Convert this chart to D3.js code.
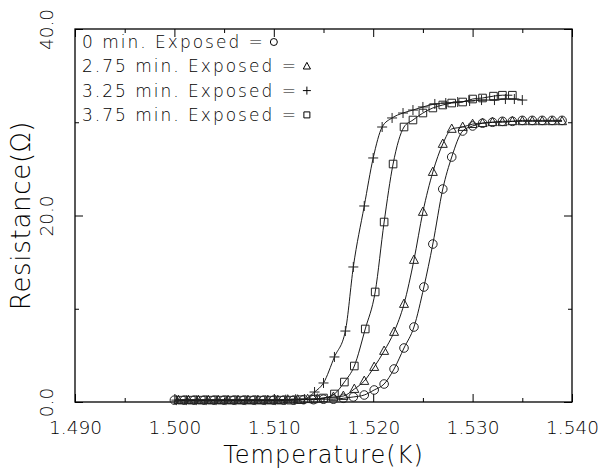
<!DOCTYPE html>
<html>
<head>
<meta charset="utf-8">
<script src="https://cdn.jsdelivr.net/npm/d3@7"></script>
<style>
  body { margin: 0; background: #fff; }
  #chart { width: 598px; height: 469px; }
  text { font-family: "DejaVu Sans", sans-serif; font-weight: 200; fill: #000; }
</style>
</head>
<body>
<div id="chart"></div>
<script>
// 0 min. exposed (circles)
var temp0 = [1.5000, 1.5010, 1.5020, 1.5030, 1.5040, 1.5050, 1.5060, 1.5070, 1.5080, 1.5090,
             1.5100, 1.5110, 1.5120, 1.5130, 1.5140, 1.5150, 1.5160, 1.5170, 1.5180, 1.5191,
             1.5201, 1.5211, 1.5221, 1.5231, 1.5241, 1.5251, 1.5260, 1.5270, 1.5279, 1.5290,
             1.5300, 1.5310, 1.5320, 1.5330, 1.5340, 1.5350, 1.5360, 1.5370, 1.5380, 1.5390];
var res0 = [0.2, 0.2, 0.2, 0.2, 0.2, 0.2, 0.2, 0.2, 0.2, 0.2,
            0.2, 0.2, 0.2, 0.25, 0.25, 0.3, 0.3, 0.4, 0.54, 0.75,
            1.29, 1.93, 3.54, 5.79, 8.04, 12.33, 16.94, 22.84, 26.27, 29.06,
            29.6, 29.9, 30.0, 30.1, 30.1, 30.2, 30.2, 30.2, 30.2, 30.2];

// 2.75 min. exposed (triangles)
var temp275 = [1.5004, 1.5014, 1.5024, 1.5034, 1.5044, 1.5054, 1.5064, 1.5074, 1.5084, 1.5094,
               1.5104, 1.5114, 1.5124, 1.5134, 1.5144, 1.5160, 1.5170, 1.5181, 1.5191, 1.5201,
               1.5211, 1.5221, 1.5231, 1.5241, 1.5250, 1.5260, 1.5270, 1.5279, 1.5290, 1.5300,
               1.5310, 1.5320, 1.5330, 1.5340, 1.5350, 1.5360, 1.5370, 1.5380, 1.5390];
var res275 = [0.2, 0.2, 0.2, 0.2, 0.2, 0.2, 0.2, 0.2, 0.2, 0.2,
              0.2, 0.25, 0.25, 0.3, 0.35, 0.54, 0.64, 1.39, 2.25, 3.75,
              5.47, 7.51, 10.51, 15.23, 20.38, 24.66, 27.67, 29.28, 29.49, 29.8,
              29.9, 30.0, 30.0, 30.1, 30.1, 30.1, 30.1, 30.1, 30.1];

// 3.25 min. exposed (plus)
var temp325 = [1.5002, 1.5012, 1.5022, 1.5032, 1.5042, 1.5052, 1.5062, 1.5072, 1.5082, 1.5092,
               1.5102, 1.5112, 1.5122, 1.5131, 1.5141, 1.5150, 1.5161, 1.5172, 1.5180, 1.5191,
               1.5200, 1.5209, 1.5219, 1.5230, 1.5240, 1.5250, 1.5262, 1.5273, 1.5285, 1.5297,
               1.5309, 1.5322, 1.5333, 1.5342, 1.5350];
var res325 = [0.2, 0.2, 0.2, 0.2, 0.2, 0.2, 0.2, 0.2, 0.2, 0.2,
              0.2, 0.25, 0.3, 0.32, 1.07, 2.04, 4.83, 7.61, 14.48, 21.02,
              26.17, 29.49, 30.46, 30.99, 31.31, 31.64, 31.96, 32.06, 32.17, 32.28,
              32.38, 32.38, 32.49, 32.49, 32.38];

// 3.75 min. exposed (squares)
var temp375 = [1.5007, 1.5017, 1.5027, 1.5037, 1.5047, 1.5057, 1.5067, 1.5077, 1.5087, 1.5097,
               1.5107, 1.5117, 1.5127, 1.5140, 1.5150, 1.5161, 1.5171, 1.5181, 1.5192, 1.5202,
               1.5211, 1.5220, 1.5231, 1.5240, 1.5250, 1.5260, 1.5270, 1.5279, 1.5290, 1.5300,
               1.5310, 1.5321, 1.5330, 1.5340];
var res375 = [0.2, 0.2, 0.2, 0.2, 0.2, 0.2, 0.2, 0.2, 0.2, 0.2,
              0.2, 0.2, 0.25, 0.32, 0.43, 0.86, 2.14, 3.86, 7.83, 11.80,
              19.30, 25.52, 29.49, 30.24, 30.99, 31.53, 31.85, 32.06, 32.17, 32.49,
              32.6, 32.8, 32.9, 32.9];

var seriesNames = ["0 min. Exposed =", "2.75 min. Exposed =", "3.25 min. Exposed =", "3.75 min. Exposed ="];
var seriesMarks = ["circle", "triangle", "plus", "square"];

var xTickValues = [1.490, 1.500, 1.510, 1.520, 1.530, 1.540];
var xMinorValues = [1.495, 1.505, 1.515, 1.525, 1.535];
var yTickValues = [0, 20, 40];
var yMinorValues = [10, 30];

function markPath(type, s) {
     if (type == "circle") return "M" + s + ",0A" + s + "," + s + " 0 1,1 " + (-s) + ",0A" + s + "," + s + " 0 1,1 " + s + ",0";
     if (type == "triangle") return "M0," + (-s * 1.1) + "L" + s + "," + (s * 0.75) + "L" + (-s) + "," + (s * 0.75) + "Z";
     if (type == "plus") return "M" + (-s) + ",0L" + s + ",0M0," + (-s) + "L0," + s;
     return "M" + (-s) + "," + (-s) + "L" + s + "," + (-s) + "L" + s + "," + s + "L" + (-s) + "," + s + "Z";
}

function drawChart(id) {

     var width = 598, height = 469;
     var margin = {top: 29, right: 26, bottom: 67, left: 75};
     var w = width - margin.left - margin.right;
     var h = height - margin.top - margin.bottom;

     var svg = d3.select(id)
                 .append("svg")
                 .attr("width", width)
                 .attr("height", height);

     var g = svg.append("g").attr("transform", "translate(" + margin.left + "," + margin.top + ")");

     var x = d3.scaleLinear().domain([1.490, 1.540]).range([0, w]);
     var y = d3.scaleLinear().domain([0, 40]).range([h, 0]);

     var series = [
          {temp: temp0, res: res0},
          {temp: temp275, res: res275},
          {temp: temp325, res: res325},
          {temp: temp375, res: res375}
     ];
     series.forEach(function(s, i) {
          s.mark = seriesMarks[i];
          s.points = s.temp.map(function(t, j) { return [t, s.res[j]]; });
     });

     // ticks (inward, all four sides)
     var ax = function(axis, tr) {
          var a = g.append("g").attr("transform", tr).call(axis);
          a.select(".domain").remove();
          a.selectAll("line").attr("stroke", "#000").attr("stroke-width", 1);
          return a;
     };

     var bottom = ax(d3.axisBottom(x).tickValues(xTickValues).tickSize(-8).tickPadding(19)
                      .tickFormat(d3.format(".3f")), "translate(0," + h + ")");
     bottom.selectAll("text").style("font-size", "18.5px").style("font-family", "DejaVu Sans").style("font-weight", 200);
     ax(d3.axisBottom(x).tickValues(xMinorValues).tickSize(-4).tickFormat(""), "translate(0," + h + ")");
     ax(d3.axisTop(x).tickValues(xTickValues).tickSize(-8).tickFormat(""), "translate(0,0)");
     ax(d3.axisTop(x).tickValues(xMinorValues).tickSize(-4).tickFormat(""), "translate(0,0)");

     var left = ax(d3.axisLeft(y).tickValues(yTickValues).tickSize(-8).tickFormat(d3.format(".1f")), "translate(0,0)");
     left.selectAll("text")
         .attr("x", 0).attr("dy", null)
         .attr("text-anchor", "middle")
         .attr("transform", "translate(-22,0) rotate(-90)")
         .style("font-size", "18.5px").style("font-family", "DejaVu Sans").style("font-weight", 200);
     ax(d3.axisLeft(y).tickValues(yMinorValues).tickSize(-4).tickFormat(""), "translate(0,0)");
     ax(d3.axisRight(y).tickValues(yTickValues).tickSize(-8).tickFormat(""), "translate(" + w + ",0)");
     ax(d3.axisRight(y).tickValues(yMinorValues).tickSize(-4).tickFormat(""), "translate(" + w + ",0)");

     // frame
     g.append("rect")
      .attr("width", w).attr("height", h)
      .attr("fill", "none").attr("stroke", "#000").attr("stroke-width", 1.3);

     // curves
     var line = d3.line()
                  .x(function(d) { return x(d[0]); })
                  .y(function(d) { return y(d[1]); })
                  .curve(d3.curveMonotoneX);

     g.append("g").selectAll("path")
      .data(series).enter().append("path")
      .attr("d", function(d) { return line(d.points); })
      .attr("fill", "none").attr("stroke", "#000").attr("stroke-width", 0.9);

     var sizes = {circle: 4.3, triangle: 4.5, plus: 5, square: 3.8};

     g.append("g").selectAll("g")
      .data(series).enter().append("g")
      .selectAll("path")
      .data(function(d) { return d.points.map(function(p) { return {p: p, mark: d.mark}; }); })
      .enter().append("path")
      .attr("transform", function(d) { return "translate(" + x(d.p[0]) + "," + y(d.p[1]) + ")"; })
      .attr("d", function(d) { return markPath(d.mark, sizes[d.mark]); })
      .attr("fill", "none").attr("stroke", "#222").attr("stroke-width", 1);

     // legend
     var legend = svg.append("g");
     seriesNames.forEach(function(name, i) {
          var by = 48 + i * 24.3;
          var t = legend.append("text")
                        .attr("x", 82).attr("y", by)
                        .style("font-size", "17px")
                        .style("letter-spacing", "2px")
                        .text(name);
          var end = 82 + t.node().getComputedTextLength();
          var ls = {circle: 3.5, triangle: 3.6, plus: 4, square: 3};
          legend.append("path")
                .attr("transform", "translate(" + (end + 9) + "," + (by - 6) + ")")
                .attr("d", markPath(seriesMarks[i], ls[seriesMarks[i]]))
                .attr("fill", "none").attr("stroke", "#000").attr("stroke-width", 1);
     });

     // axis titles
     svg.append("text")
        .attr("x", margin.left + w / 2).attr("y", 463)
        .attr("text-anchor", "middle")
        .style("font-size", "24px").style("letter-spacing", "1px")
        .text("Temperature(K)");

     svg.append("text")
        .attr("transform", "translate(30," + (margin.top + h / 2) + ") rotate(-90)")
        .attr("text-anchor", "middle")
        .style("font-size", "26px").style("letter-spacing", "0.7px")
        .text("Resistance(Ω)");
}

drawChart("#chart");
</script>
</body>
</html>
